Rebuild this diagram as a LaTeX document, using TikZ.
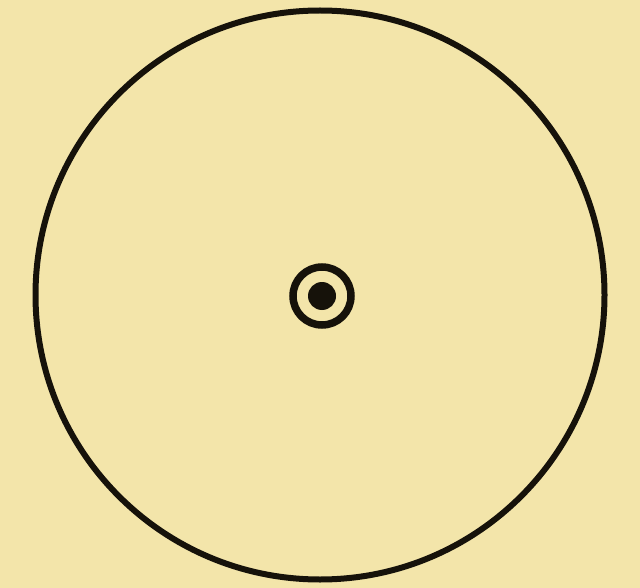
\documentclass[tikz,border=0pt]{standalone}
\definecolor{paper}{RGB}{243,229,170}
\definecolor{ink}{RGB}{22,18,10}
\begin{document}
\begin{tikzpicture}[x=1pt,y=-1pt,
  ringline/.style={draw=ink,line width=6pt},
  smallring/.style={draw=ink,line width=7.5pt}]
\fill[paper] (0,0) rectangle (640,588);
\useasboundingbox (0,0) rectangle (640,588);
\coordinate (c) at (320,295);
\coordinate (m) at (322,296);
\draw[ringline] (c) circle[radius=284.5];
\draw[smallring] (m) circle[radius=29];
\fill[ink] (m) circle[radius=14];
\end{tikzpicture}
\end{document}
